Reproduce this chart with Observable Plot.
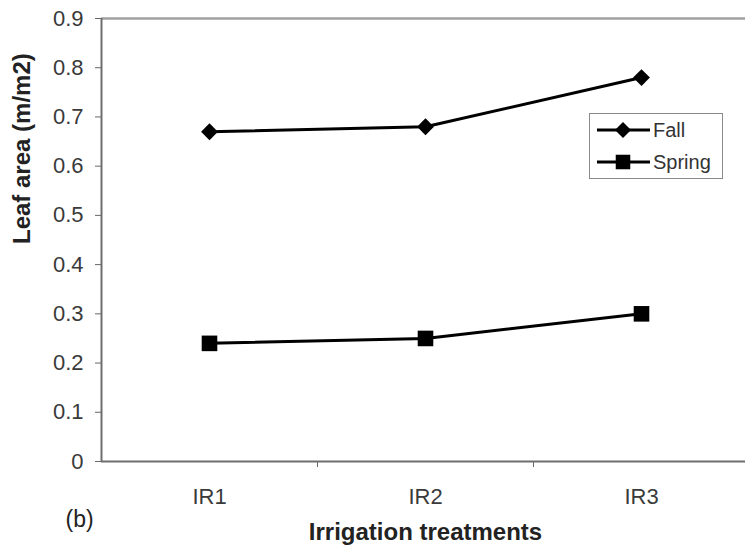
<!DOCTYPE html>
<html>
<head>
<meta charset="utf-8">
<script src="https://cdn.jsdelivr.net/npm/d3@7"></script>
<script src="https://cdn.jsdelivr.net/npm/@observablehq/plot@0.6"></script>
<style>
  html, body { margin: 0; padding: 0; background: #fff; overflow: hidden; }
  #wrap { position: relative; width: 745px; height: 556px; overflow: hidden; font-family: "Liberation Sans", Arial, sans-serif; }
  #legend { position: absolute; left: 589px; top: 113px; width: 132px; height: 64px; border: 1px solid #8a8a8a; background: #fff; }
  #legend svg { position: absolute; left: 0; top: 0; }
</style>
</head>
<body>
<div id="wrap"></div>
<script>
const categories = ["IR1", "IR2", "IR3"];
const fall = [0.67, 0.68, 0.78];
const spring = [0.24, 0.25, 0.30];
const seriesNames = ["Fall", "Spring"];
const yTicks = [0, 0.1, 0.2, 0.3, 0.4, 0.5, 0.6, 0.7, 0.8, 0.9];
const xLabel = "Irrigation treatments";
const yLabel = "Leaf area (m/m2)";
const panelTag = "(b)";

const data = categories.flatMap((c, i) => [
  {cat: c, idx: i + 1, series: seriesNames[0], value: fall[i]},
  {cat: c, idx: i + 1, series: seriesNames[1], value: spring[i]}
]);
const catIdx = categories.map((c, i) => i + 1);
const boundaries = categories.map((c, i) => i + 1.5);

const chart = Plot.plot({
  width: 745,
  height: 556,
  marginLeft: 101,
  marginTop: 18,
  marginBottom: 95,
  marginRight: 0,
  style: {fontFamily: "'Liberation Sans', Arial, sans-serif", fontSize: "22px", background: "#fff", overflow: "hidden"},
  x: {type: "linear", domain: [0.5, categories.length + 0.5], range: [101, 749]},
  y: {domain: [0, 0.9], range: [461, 18]},
  marks: [
    Plot.ruleY([yTicks[yTicks.length - 1]], {stroke: "#a0a0a0", strokeWidth: 2.5}),
    Plot.axisY({ticks: yTicks, tickSize: 6, tickPadding: 12, tickFormat: d => d === 0 ? "0" : d.toFixed(1), fontSize: 22, stroke: "#666", fill: "#3a3a3a", label: null}),
    Plot.axisX({ticks: catIdx, tickSize: 0, tickPadding: 27, tickFormat: d => categories[d - 1], fontSize: 22, fill: "#3a3a3a", label: null}),
    Plot.axisX({ticks: boundaries, tickSize: 6, tickFormat: () => "", stroke: "#666", label: null}),
    Plot.ruleY([0], {stroke: "#6e6e6e", strokeWidth: 2}),
    Plot.ruleX([0.5], {y1: 0, y2: yTicks[yTicks.length - 1], stroke: "#6e6e6e", strokeWidth: 2}),
    Plot.line(data, {x: "idx", y: "value", z: "series", stroke: "#000", strokeWidth: 3}),
    Plot.dot(data.filter(d => d.series === "Fall"), {x: "idx", y: "value", symbol: () => "diamond2", fill: "#000", stroke: "none", r: 7.6}),
    Plot.dot(data.filter(d => d.series === "Spring"), {x: "idx", y: "value", symbol: () => "square", fill: "#000", stroke: "none", r: 8.8}),
    Plot.text([yLabel], {frameAnchor: "left", dx: -79, dy: 4, rotate: -90, fontWeight: "bold", fontSize: 24, fill: "#222"}),
    Plot.text([xLabel], {frameAnchor: "bottom", dx: 2, dy: 78, fontWeight: "bold", fontSize: 24, fill: "#222"}),
    Plot.text([panelTag], {frameAnchor: "bottom-left", dx: -36, dy: 65, textAnchor: "start", fontSize: 23, fill: "#222"})
  ]
});

const wrap = document.getElementById("wrap");
wrap.appendChild(chart);

// Legend
const legend = document.createElement("div");
legend.id = "legend";
const ns = "http://www.w3.org/2000/svg";
const lsvg = document.createElementNS(ns, "svg");
lsvg.setAttribute("width", 132);
lsvg.setAttribute("height", 64);
const symbols = [d3.symbolDiamond2, d3.symbolSquare];
const sizes = [Math.PI * 7.2 * 7.2, Math.PI * 8.2 * 8.2];
seriesNames.forEach((name, i) => {
  const cy = 16 + i * 32;
  const g = document.createElementNS(ns, "g");
  const ln = document.createElementNS(ns, "line");
  ln.setAttribute("x1", 7); ln.setAttribute("x2", 60);
  ln.setAttribute("y1", cy); ln.setAttribute("y2", cy);
  ln.setAttribute("stroke", "#000"); ln.setAttribute("stroke-width", 3);
  g.appendChild(ln);
  const p = document.createElementNS(ns, "path");
  p.setAttribute("d", d3.symbol(symbols[i], sizes[i])());
  p.setAttribute("transform", `translate(33,${cy})`);
  p.setAttribute("fill", "#000");
  g.appendChild(p);
  const t = document.createElementNS(ns, "text");
  t.setAttribute("x", 63); t.setAttribute("y", cy + 7);
  t.setAttribute("font-size", 20);
  t.setAttribute("fill", "#333");
  t.setAttribute("font-family", "'Liberation Sans', Arial, sans-serif");
  t.textContent = name;
  g.appendChild(t);
  lsvg.appendChild(g);
});
legend.appendChild(lsvg);
wrap.appendChild(legend);
</script>
</body>
</html>
